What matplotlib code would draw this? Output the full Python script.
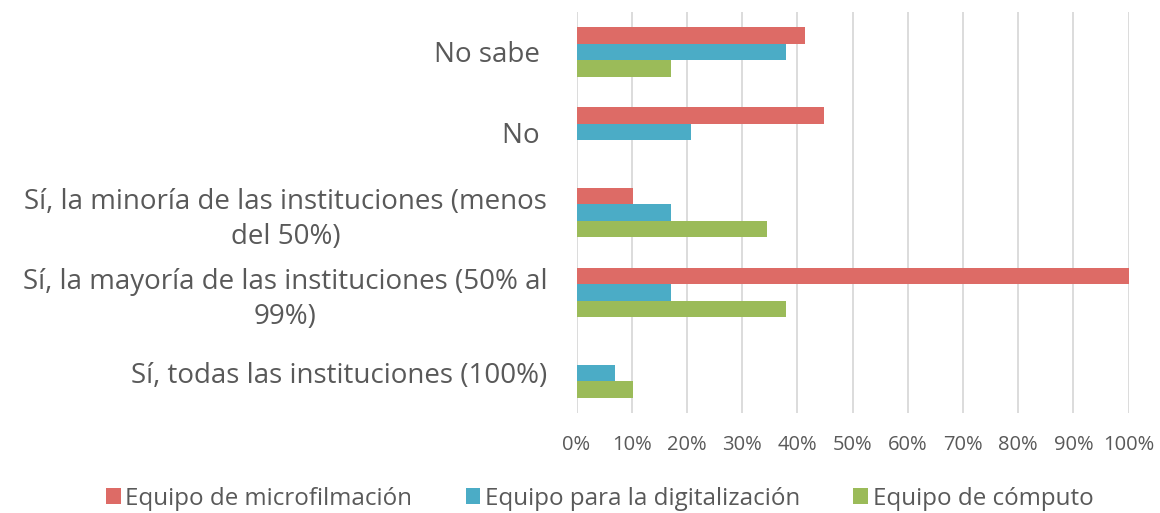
import numpy as np
import matplotlib.pyplot as plt
from matplotlib.ticker import PercentFormatter

categorias = ['No sabe ', 'No ', 'Sí, la minoría de las instituciones (menos\ndel 50%)',
              'Sí, la mayoría de las instituciones (50% al\n99%)', 'Sí, todas las instituciones (100%)']
series = ['Equipo de microfilmación', 'Equipo para la digitalización', 'Equipo de cómputo']
microfilmacion = [41.4, 44.8, 10.3, 100.0, 0.0]
digitalizacion = [37.9, 20.7, 17.2, 17.2, 6.9]
computo = [17.2, 0.0, 34.5, 37.9, 10.3]
colores = ['#DD6B66', '#4BACC6', '#9BBB59']

plt.rcParams['font.family'] = ['Open Sans', 'DejaVu Sans']
texto = '#595959'

fig = plt.figure(figsize=(11.6, 5.13), dpi=100)
ax = fig.add_axes([0.497, 0.195, 0.476, 0.782])

y = np.arange(len(categorias))
h = 0.205
for k, (vals, nombre, c) in enumerate(zip([microfilmacion, digitalizacion, computo], series, colores)):
    ax.barh(y + (k - 1) * h, vals, height=h, color=c, label=nombre)

ax.set_ylim(len(categorias) - 0.5, -0.5)
ax.set_xlim(0, 100)
ax.set_xticks(np.arange(0, 101, 10))
ax.xaxis.set_major_formatter(PercentFormatter(decimals=0))
ax.set_yticks(y)
ax.set_yticklabels(categorias, fontsize=20, color=texto, multialignment='center', linespacing=1.35)
ax.tick_params(axis='x', labelsize=14.5, colors=texto, length=0, pad=16)
ax.tick_params(axis='y', length=0, pad=21)
ax.grid(axis='x', color='#D9D9D9', linewidth=1.3)
ax.set_axisbelow(True)
for s in ax.spines.values():
    s.set_visible(False)

fig.legend(loc='center', bbox_to_anchor=(0.517, 0.028), ncol=3, frameon=False,
           fontsize=17.4, labelcolor=texto, handlelength=0.6, handleheight=0.6,
           handletextpad=0.2, columnspacing=2.2)

fig.savefig('out.png')
